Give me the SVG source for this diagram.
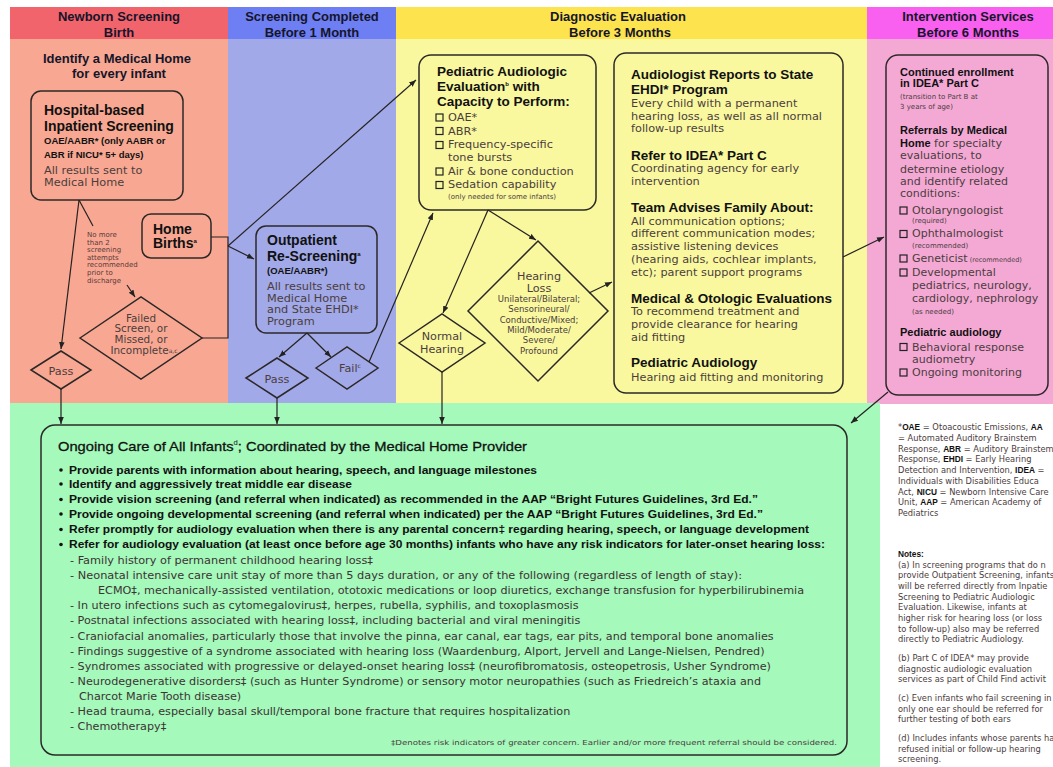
<svg xmlns="http://www.w3.org/2000/svg" width="1053" height="767" viewBox="0 0 1053 767">
<defs>
<style>
.hdr{font-family:"Liberation Sans",Arial,sans-serif;font-weight:bold;font-size:13px;fill:#15152a;text-anchor:middle}
.h{font-family:"Liberation Sans",Arial,sans-serif;font-weight:bold;font-size:14px;fill:#111}
.h2{font-family:"Liberation Sans",Arial,sans-serif;font-weight:bold;font-size:13.5px;fill:#111}
.hb{font-family:"Liberation Sans",Arial,sans-serif;font-weight:bold;font-size:11px;fill:#111}
.sb{font-family:"Liberation Sans",Arial,sans-serif;font-weight:bold;font-size:9.5px;fill:#111}
.t{font-family:"DejaVu Sans",sans-serif;font-size:11.3px;fill:#4b3d3d}
.tp{font-family:"DejaVu Sans",sans-serif;font-size:11px;fill:#4b3d3d}
.xs{font-family:"DejaVu Sans",sans-serif;font-size:7px;fill:#4b3d3d}
.nt{font-family:"DejaVu Sans",sans-serif;font-size:7px;fill:#5a3a3a}
.d{font-family:"DejaVu Sans",sans-serif;font-size:11.2px;fill:#4b3d3d;text-anchor:middle}
.df{font-family:"DejaVu Sans",sans-serif;font-size:10.4px;fill:#4b3d3d;text-anchor:middle}
.dm{font-family:"DejaVu Sans",sans-serif;font-size:8.5px;fill:#4b3d3d;text-anchor:middle}
.box{fill:none;stroke:#2d2828;stroke-width:1.5}
.cb{fill:none;stroke:#222;stroke-width:1.2}
.ln{fill:none;stroke:#262222;stroke-width:1.2}
.a{marker-end:url(#ah)}
.gt{font-family:"Liberation Sans",Arial,sans-serif;font-size:13.5px;fill:#111;stroke:#111;stroke-width:0.3}
.gb{font-family:"Liberation Sans",Arial,sans-serif;font-weight:bold;font-size:10.8px;fill:#111}
.gs{font-family:"DejaVu Sans",sans-serif;font-size:11.2px;fill:#3d3333}
.n{font-family:"DejaVu Sans",sans-serif;font-size:8.3px;fill:#4b3d3d}
.nb{font-family:"Liberation Sans",Arial,sans-serif;font-weight:bold;fill:#111}
</style>
<marker id="ah" viewBox="0 0 10 10" refX="10" refY="5" markerWidth="7" markerHeight="7" markerUnits="userSpaceOnUse" orient="auto"><path d="M0,1 L10,5 L0,9 z" fill="#222"/></marker>
</defs>

<g id="background">
<rect x="0" y="0" width="1053" height="767" fill="#ffffff"/>
<rect x="10" y="7" width="218" height="32" fill="#f2646b"/>
<rect x="10" y="39" width="218" height="365" fill="#f8a892"/>
<rect x="228" y="7" width="168" height="32" fill="#6e7ff3"/>
<rect x="228" y="39" width="168" height="365" fill="#a1a9e8"/>
<rect x="396" y="7" width="471" height="32" fill="#fde44e"/>
<rect x="396" y="39" width="471" height="365" fill="#f9f89f"/>
<rect x="867" y="7" width="186" height="32" fill="#f960ef"/>
<rect x="867" y="39" width="186" height="365" fill="#f4a9d5"/>
<rect x="10" y="403" width="870" height="364" fill="#a4f9bb"/>
</g>

<g id="headers">
<text class="hdr" x="119" y="21">Newborn Screening</text>
<text class="hdr" x="119" y="37">Birth</text>
<text class="hdr" x="312" y="21">Screening Completed</text>
<text class="hdr" x="312" y="37">Before 1 Month</text>
<text class="hdr" x="618" y="21">Diagnostic Evaluation</text>
<text class="hdr" x="620" y="37">Before 3 Months</text>
<text class="hdr" x="968" y="21">Intervention Services</text>
<text class="hdr" x="968" y="37">Before 6 Months</text>
</g>

<g id="medical-home-label">
<text class="hdr" x="117" y="63" font-size="12.8">Identify a Medical Home</text>
<text class="hdr" x="119" y="78" font-size="12.8">for every infant</text>
</g>

<g id="hospital-screening">
<rect class="box" x="31" y="91" width="152" height="109" rx="10"/>
<text class="h" x="44" y="115">Hospital-based</text>
<text class="h" x="44" y="130.5">Inpatient Screening</text>
<text class="sb" x="44" y="143.5">OAE/AABR* (only AABR or</text>
<text class="sb" x="44" y="157.5">ABR if NICU* 5+ days)</text>
<text class="t" x="44" y="174">All results sent to</text>
<text class="t" x="44" y="186">Medical Home</text>
</g>

<g id="screening-note">
<text class="nt" x="87" y="237">No more</text>
<text class="nt" x="87" y="244.6">than 2</text>
<text class="nt" x="87" y="252.2">screening</text>
<text class="nt" x="87" y="259.8">attempts</text>
<text class="nt" x="87" y="267.4">recommended</text>
<text class="nt" x="87" y="275">prior to</text>
<text class="nt" x="87" y="282.6">discharge</text>
</g>

<g id="home-births">
<rect class="box" x="142" y="214" width="69" height="44" rx="9"/>
<text class="h" x="153" y="234">Home</text>
<text class="h" x="153" y="248">Births<tspan font-size="6" dy="-5">a</tspan></text>
</g>

<g id="pass-1">
<polygon class="box" points="31,370 61,351 91,370 61,389"/>
<text class="d" x="61" y="375">Pass</text>
</g>

<g id="failed">
<polygon class="box" points="80,338 141,297 202,338 141,379"/>
<text class="df" x="141" y="321.5">Failed</text>
<text class="df" x="141" y="332.3">Screen, or</text>
<text class="df" x="141" y="343.2">Missed, or</text>
<text class="df" x="144" y="353.8">Incomplete<tspan font-size="6" dy="-1">a,c</tspan></text>
</g>

<g id="outpatient">
<rect class="box" x="256" y="226" width="121" height="107" rx="10"/>
<text class="h" x="267" y="245">Outpatient</text>
<text class="h" x="267" y="260.5">Re-Screening<tspan font-size="6" dy="-5">a</tspan></text>
<text class="sb" x="267" y="274" font-size="8.5">(OAE/AABR*)</text>
<text class="t" x="267" y="289.5">All results sent to</text>
<text class="t" x="267" y="301.5">Medical Home</text>
<text class="t" x="267" y="313.3">and State EHDI*</text>
<text class="t" x="267" y="325">Program</text>
</g>

<g id="pass-2">
<polygon class="box" points="246,378 277,358 308,378 277,398"/>
<text class="d" x="277" y="383">Pass</text>
</g>

<g id="fail">
<polygon class="box" points="316,368 347,347 378,368 347,389"/>
<text class="d" x="350" y="372">Fail<tspan font-size="6" dy="-4">c</tspan></text>
</g>

<g id="pediatric-audiologic">
<rect class="box" x="419" y="55" width="177" height="155" rx="12"/>
<text class="h2" x="437" y="76">Pediatric Audiologic</text>
<text class="h2" x="437" y="91">Evaluation<tspan font-size="6" dy="-5">b</tspan><tspan dy="5"> with</tspan></text>
<text class="h2" x="437" y="106">Capacity to Perform:</text>
<rect class="cb" x="436" y="114" width="7" height="7"/>
<text class="t" x="448" y="121">OAE*</text>
<rect class="cb" x="436" y="127.5" width="7" height="7"/>
<text class="t" x="448" y="134.5">ABR*</text>
<rect class="cb" x="436" y="141.5" width="7" height="7"/>
<text class="t" x="448" y="148.3">Frequency-specific</text>
<text class="t" x="448" y="160.7">tone bursts</text>
<rect class="cb" x="436" y="168" width="7" height="7"/>
<text class="t" x="448" y="175">Air &amp; bone conduction</text>
<rect class="cb" x="436" y="181.5" width="7" height="7"/>
<text class="t" x="448" y="188.3">Sedation capability</text>
<text class="xs" x="448" y="199.3" font-size="7.6">(only needed for some infants)</text>
</g>

<g id="normal-hearing">
<polygon class="box" points="399,343 442,314 485,343 442,372"/>
<text class="d" x="442" y="340">Normal</text>
<text class="d" x="442" y="353">Hearing</text>
</g>

<g id="hearing-loss">
<polygon class="box" points="468,311 538,241 608,311 538,381"/>
<text class="d" x="539" y="280">Hearing</text>
<text class="d" x="539" y="291.7">Loss</text>
<text class="dm" x="539" y="301.7">Unilateral/Bilateral;</text>
<text class="dm" x="539" y="312.3">Sensorineural/</text>
<text class="dm" x="539" y="322.7">Conductive/Mixed;</text>
<text class="dm" x="539" y="332.7">Mild/Moderate/</text>
<text class="dm" x="539" y="343.3">Severe/</text>
<text class="dm" x="539" y="354">Profound</text>
</g>

<g id="audiologist-reports">
<rect class="box" x="614" y="53" width="229" height="340" rx="12"/>
<text class="h2" x="631" y="79">Audiologist Reports to State</text>
<text class="h2" x="631" y="93.5">EHDI* Program</text>
<text class="t" x="631" y="106.7">Every child with a permanent</text>
<text class="t" x="631" y="119.5">hearing loss, as well as all normal</text>
<text class="t" x="631" y="131.7">follow-up results</text>
<text class="h2" x="631" y="159.5">Refer to IDEA* Part C</text>
<text class="t" x="631" y="172.3">Coordinating agency for early</text>
<text class="t" x="631" y="185">intervention</text>
<text class="h2" x="631" y="211.7">Team Advises Family About:</text>
<text class="t" x="631" y="225">All communication options;</text>
<text class="t" x="631" y="237.3">different communication modes;</text>
<text class="t" x="631" y="250">assistive listening devices</text>
<text class="t" x="631" y="262.7">(hearing aids, cochlear implants,</text>
<text class="t" x="631" y="275.7">etc); parent support programs</text>
<text class="h2" x="631" y="303.3">Medical &amp; Otologic Evaluations</text>
<text class="t" x="631" y="315">To recommend treatment and</text>
<text class="t" x="631" y="328.3">provide clearance for hearing</text>
<text class="t" x="631" y="340.7">aid fitting</text>
<text class="h2" x="631" y="366.7">Pediatric Audiology</text>
<text class="t" x="631" y="380.7">Hearing aid fitting and monitoring</text>
</g>

<g id="intervention-services">
<rect class="box" x="886" y="55" width="162" height="340" rx="12"/>
<text class="hb" x="900" y="76">Continued enrollment</text>
<text class="hb" x="900" y="87.3">in IDEA* Part C</text>
<text class="xs" x="900" y="99.3">(transition to Part B at</text>
<text class="xs" x="900" y="109">3 years of age)</text>
<text class="hb" x="900" y="134">Referrals by Medical</text>
<text class="tp" x="900" y="146.7"><tspan class="hb">Home</tspan> for specialty</text>
<text class="tp" x="900" y="159.3">evaluations, to</text>
<text class="tp" x="900" y="172.7">determine etiology</text>
<text class="tp" x="900" y="185.3">and identify related</text>
<text class="tp" x="900" y="197.3">conditions:</text>
<rect class="cb" x="900" y="207" width="7" height="7"/>
<text class="tp" x="912" y="214">Otolaryngologist</text>
<text class="xs" x="912" y="223.3" font-size="6.5">(required)</text>
<rect class="cb" x="900" y="230.5" width="7" height="7"/>
<text class="tp" x="912" y="237.3">Ophthalmologist</text>
<text class="xs" x="912" y="248.3" font-size="6.5">(recommended)</text>
<rect class="cb" x="900" y="255" width="7" height="7"/>
<text class="tp" x="912" y="261.7">Geneticist<tspan font-size="6.5"> (recommended)</tspan></text>
<rect class="cb" x="900" y="269" width="7" height="7"/>
<text class="tp" x="912" y="276">Developmental</text>
<text class="tp" x="912" y="289.3">pediatrics, neurology,</text>
<text class="tp" x="912" y="301.7">cardiology, nephrology</text>
<text class="xs" x="912" y="314" font-size="6.5">(as needed)</text>
<text class="hb" x="900" y="336">Pediatric audiology</text>
<rect class="cb" x="900" y="343.5" width="7" height="7"/>
<text class="tp" x="912" y="350.7">Behavioral response</text>
<text class="tp" x="912" y="362.7">audiometry</text>
<rect class="cb" x="900" y="369" width="7" height="7"/>
<text class="tp" x="912" y="376">Ongoing monitoring</text>
</g>

<g id="ongoing-care">
<rect class="box" x="41" y="425" width="806" height="330" rx="14"/>
<text class="gt" x="58" y="450.5" textLength="469" lengthAdjust="spacingAndGlyphs">Ongoing Care of All Infants<tspan font-size="7" dy="-6" stroke-width="0">d</tspan><tspan dy="6">; Coordinated by the Medical Home Provider</tspan></text>
<g fill="#111">
<circle cx="61" cy="470" r="1.8"/>
<circle cx="61" cy="484" r="1.8"/>
<circle cx="61" cy="499.5" r="1.8"/>
<circle cx="61" cy="514" r="1.8"/>
<circle cx="61" cy="529.5" r="1.8"/>
<circle cx="61" cy="544.5" r="1.8"/>
</g>
<text class="gb" x="69" y="473.5" textLength="468" lengthAdjust="spacingAndGlyphs">Provide parents with information about hearing, speech, and language milestones</text>
<text class="gb" x="69" y="487.5" textLength="283" lengthAdjust="spacingAndGlyphs">Identify and aggressively treat middle ear disease</text>
<text class="gb" x="69" y="503" textLength="689" lengthAdjust="spacingAndGlyphs">Provide vision screening (and referral when indicated) as recommended in the AAP “Bright Futures Guidelines, 3rd Ed.”</text>
<text class="gb" x="69" y="517.5" textLength="694" lengthAdjust="spacingAndGlyphs">Provide ongoing developmental screening (and referral when indicated) per the AAP “Bright Futures Guidelines, 3rd Ed.”</text>
<text class="gb" x="69" y="533" textLength="740" lengthAdjust="spacingAndGlyphs">Refer promptly for audiology evaluation when there is any parental concern‡ regarding hearing, speech, or language development</text>
<text class="gb" x="69" y="548" textLength="756" lengthAdjust="spacingAndGlyphs">Refer for audiology evaluation (at least once before age 30 months) infants who have any risk indicators for later-onset hearing loss:</text>
<text class="gs" x="70" y="564" textLength="303" lengthAdjust="spacingAndGlyphs">- Family history of permanent childhood hearing loss‡</text>
<text class="gs" x="70" y="579" textLength="672" lengthAdjust="spacingAndGlyphs">- Neonatal intensive care unit stay of more than 5 days duration, or any of the following (regardless of length of stay):</text>
<text class="gs" x="98" y="594.2">ECMO‡, mechanically-assisted ventilation, ototoxic medications or loop diuretics, exchange transfusion for hyperbilirubinemia</text>
<text class="gs" x="70" y="609.3">- In utero infections such as cytomegalovirus‡, herpes, rubella, syphilis, and toxoplasmosis</text>
<text class="gs" x="70" y="624.4">- Postnatal infections associated with hearing loss‡, including bacterial and viral meningitis</text>
<text class="gs" x="70" y="639.5">- Craniofacial anomalies, particularly those that involve the pinna, ear canal, ear tags, ear pits, and temporal bone anomalies</text>
<text class="gs" x="70" y="654.6">- Findings suggestive of a syndrome associated with hearing loss (Waardenburg, Alport, Jervell and Lange-Nielsen, Pendred)</text>
<text class="gs" x="70" y="669.7">- Syndromes associated with progressive or delayed-onset hearing loss‡ (neurofibromatosis, osteopetrosis, Usher Syndrome)</text>
<text class="gs" x="70" y="684.8">- Neurodegenerative disorders‡ (such as Hunter Syndrome) or sensory motor neuropathies (such as Friedreich’s ataxia and</text>
<text class="gs" x="79" y="699.9">Charcot Marie Tooth disease)</text>
<text class="gs" x="70" y="715">- Head trauma, especially basal skull/temporal bone fracture that requires hospitalization</text>
<text class="gs" x="70" y="730.1">- Chemotherapy‡</text>
<text class="xs" x="837" y="745" text-anchor="end" font-size="7.2" textLength="446" lengthAdjust="spacingAndGlyphs">‡Denotes risk indicators of greater concern. Earlier and/or more frequent referral should be considered.</text>
</g>

<g id="notes">
<text class="n" x="898" y="430">*<tspan class="nb">OAE</tspan> = Otoacoustic Emissions, <tspan class="nb">AA</tspan></text>
<text class="n" x="898" y="441">= Automated Auditory Brainstem</text>
<text class="n" x="898" y="451.7">Response, <tspan class="nb">ABR</tspan> = Auditory Brainstem</text>
<text class="n" x="898" y="462.4">Response, <tspan class="nb">EHDI</tspan> = Early Hearing</text>
<text class="n" x="898" y="473.1">Detection and Intervention, <tspan class="nb">IDEA</tspan> =</text>
<text class="n" x="898" y="483.8">Individuals with Disabilities Educa</text>
<text class="n" x="898" y="494.5">Act, <tspan class="nb">NICU</tspan> = Newborn Intensive Care</text>
<text class="n" x="898" y="505.2">Unit, <tspan class="nb">AAP</tspan> = American Academy of</text>
<text class="n" x="898" y="515.9">Pediatrics</text>
<text class="n" x="898" y="557"><tspan class="nb">Notes:</tspan></text>
<text class="n" x="898" y="567.5">(a) In screening programs that do n</text>
<text class="n" x="898" y="578.2">provide Outpatient Screening, infants</text>
<text class="n" x="898" y="588.9">will be referred directly from Inpatie</text>
<text class="n" x="898" y="599.6">Screening to Pediatric Audiologic</text>
<text class="n" x="898" y="610.3">Evaluation. Likewise, infants at</text>
<text class="n" x="898" y="621">higher risk for hearing loss (or loss</text>
<text class="n" x="898" y="631.7">to follow-up) also may be referred</text>
<text class="n" x="898" y="642.4">directly to Pediatric Audiology.</text>
<text class="n" x="898" y="661">(b) Part C of IDEA* may provide</text>
<text class="n" x="898" y="671.7">diagnostic audiologic evaluation</text>
<text class="n" x="898" y="682.4">services as part of Child Find activit</text>
<text class="n" x="898" y="701">(c) Even infants who fail screening in</text>
<text class="n" x="898" y="711.7">only one ear should be referred for</text>
<text class="n" x="898" y="722.4">further testing of both ears</text>
<text class="n" x="898" y="741">(d) Includes infants whose parents ha</text>
<text class="n" x="898" y="751.7">refused initial or follow-up hearing</text>
<text class="n" x="898" y="762.4">screening.</text>
</g>

<g id="connectors">
<path class="ln a" d="M79,200 L61,349"/>
<path class="ln" d="M79,200 L93,226"/>
<path class="ln a" d="M127,285 L135,297"/>
<path class="ln a" d="M61,389 L61,424"/>
<path class="ln" d="M211,237 H228 V338 H202"/>
<path class="ln a" d="M228,246 L416,80"/>
<path class="ln a" d="M228,246 L254,259"/>
<path class="ln a" d="M307,333 L279,357"/>
<path class="ln a" d="M307,333 L331,357"/>
<path class="ln a" d="M277,398 V424"/>
<path class="ln a" d="M369,362 L433,213"/>
<path class="ln a" d="M488,210 L443,313"/>
<path class="ln a" d="M488,210 L536,240"/>
<path class="ln a" d="M442,372 V424"/>
<path class="ln a" d="M589,293 L612,282"/>
<path class="ln a" d="M843,257 L884,237"/>
<path class="ln a" d="M888,392 L851,423"/>
</g>
</svg>
